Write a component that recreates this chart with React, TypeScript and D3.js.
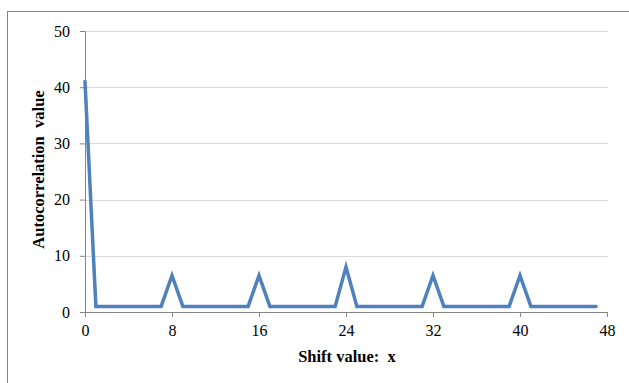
import React from 'react';
import * as d3 from 'd3';

const shiftValues: number[] = [
  0, 1, 2, 3, 4, 5, 6, 7, 8, 9, 10, 11, 12, 13, 14, 15, 16, 17, 18, 19, 20, 21, 22, 23,
  24, 25, 26, 27, 28, 29, 30, 31, 32, 33, 34, 35, 36, 37, 38, 39, 40, 41, 42, 43, 44, 45, 46, 47,
];
const autocorrValues: number[] = [
  41, 1, 1, 1, 1, 1, 1, 1, 6.5, 1, 1, 1, 1, 1, 1, 1, 6.5, 1, 1, 1, 1, 1, 1, 1,
  8, 1, 1, 1, 1, 1, 1, 1, 6.5, 1, 1, 1, 1, 1, 1, 1, 6.5, 1, 1, 1, 1, 1, 1, 1,
];
const xTicks: number[] = [0, 8, 16, 24, 32, 40, 48];
const yTicks: number[] = [0, 10, 20, 30, 40, 50];
const xTitle = 'Shift value:  x';
const yTitle = 'Autocorrelation  value';

const W = 629;
const H = 383;

const App: React.FC = () => {
  const ref = React.useRef<SVGSVGElement>(null);

  React.useEffect(() => {
    const svg = d3.select(ref.current);
    svg.selectAll('*').remove();

    const margin = { top: 31, left: 85, right: 22, bottom: 71 };
    const x = d3.scaleLinear().domain([0, 48]).range([margin.left, W - margin.right]);
    const y = d3.scaleLinear().domain([0, 50]).range([H - margin.bottom, margin.top]);

    // outer frame (runs off the right and bottom edges)
    svg
      .append('rect')
      .attr('x', 7.5)
      .attr('y', 11.5)
      .attr('width', W + 10)
      .attr('height', H + 10)
      .attr('fill', 'none')
      .attr('stroke', '#868686')
      .attr('stroke-width', 1);

    // gridlines
    svg
      .append('g')
      .selectAll('line')
      .data(yTicks.filter((d) => d > 0))
      .enter()
      .append('line')
      .attr('x1', x(0))
      .attr('x2', x(48) + 1)
      .attr('y1', (d) => Math.round(y(d)) + 0.5)
      .attr('y2', (d) => Math.round(y(d)) + 0.5)
      .attr('stroke', '#d9d9d9')
      .attr('stroke-width', 1);

    const font = '"Liberation Serif", "Times New Roman", serif';

    const yAxis = svg
      .append('g')
      .attr('transform', `translate(${x(0)},0)`)
      .call(d3.axisLeft(y).tickValues(yTicks).tickSize(5).tickPadding(10));
    yAxis.select('.domain').attr('stroke', '#868686');
    yAxis.selectAll('.tick line').attr('stroke', '#868686');
    yAxis
      .selectAll('text')
      .attr('fill', '#000')
      .style('font-family', font)
      .style('font-size', '16px');

    const xAxis = svg
      .append('g')
      .attr('transform', `translate(0,${y(0)})`)
      .call(d3.axisBottom(x).tickValues(xTicks).tickSize(5).tickPadding(8));
    xAxis.select('.domain').attr('stroke', '#868686');
    xAxis.selectAll('.tick line').attr('stroke', '#868686');
    xAxis
      .selectAll('text')
      .attr('fill', '#000')
      .style('font-family', font)
      .style('font-size', '16px');

    const points = shiftValues.map((s, i) => ({ s, v: autocorrValues[i] }));
    svg
      .append('path')
      .datum(points)
      .attr('fill', 'none')
      .attr('stroke', '#4f81bd')
      .attr('stroke-width', 3.5)
      .attr('stroke-linejoin', 'miter')
      .attr('stroke-linecap', 'round')
      .attr(
        'd',
        d3
          .line<{ s: number; v: number }>()
          .x((d) => x(d.s))
          .y((d) => y(d.v))
      );

    svg
      .append('text')
      .attr('x', 347)
      .attr('y', 362)
      .attr('text-anchor', 'middle')
      .style('font-family', font)
      .style('font-weight', 'bold')
      .style('font-size', '16.5px')
      .style('white-space', 'pre')
      .text(xTitle);

    svg
      .append('text')
      .attr('transform', `translate(44,${(y(0) + y(50)) / 2 - 2}) rotate(-90)`)
      .attr('text-anchor', 'middle')
      .style('font-family', font)
      .style('font-weight', 'bold')
      .style('font-size', '16.5px')
      .style('white-space', 'pre')
      .text(yTitle);
  }, []);

  return (
    <svg
      ref={ref}
      width={W}
      height={H}
      style={{ position: 'absolute', left: 0, top: 0, background: '#fff' }}
    />
  );
};

export default App;
